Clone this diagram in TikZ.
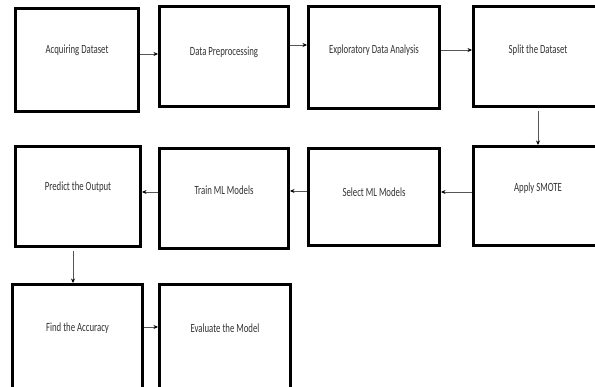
\documentclass[tikz,border=0pt]{standalone}
\usepackage{fontspec}
\setmainfont{Carlito}
\usetikzlibrary{arrows.meta,calc}
\definecolor{txtgray}{HTML}{333333}
\definecolor{linegray}{HTML}{555555}
\tikzset{
  stepbox/.style={draw=black, line width=2.6pt, fill=white, inner sep=0pt},
  steptext/.style={text=txtgray, font=\fontsize{12.5}{14}\selectfont, inner sep=0pt},
  arr/.style={draw=linegray, line width=0.9pt, -{Stealth[length=4.5pt,width=4pt,black]}},
}
% box with its label: #1 name, #2 left, #3 top, #4 right, #5 bottom, #6 label y, #7 text
\newcommand{\flowbox}[7]{%
  \node[stepbox, minimum width={#4-#2-2.6pt}, minimum height={#5-#3-2.6pt}]
    (#1) at ({(#2+#4)/2},{(#3+#5)/2}) {};
  \draw[line width=2.4pt] ($(#1.south west)+(0,1.6pt)$) -- ($(#1.south east)+(0,1.6pt)$);
  \node[steptext] (#1t) at ({(#2+#4)/2},#6) {\scalebox{0.7}[1]{#7}};
}
\begin{document}
\begin{tikzpicture}[x=1pt,y=-1pt]
  \useasboundingbox (0,0) rectangle (595,387);
  \clip (0,0) rectangle (595,387);
  \fill[white] (0,0) rectangle (595,387);

  % first row
  \flowbox{b1}{14}{7}{140}{113}{50}{Acquiring Dataset}
  \flowbox{b2}{158}{5}{290}{108}{52}{Data Preprocessing}
  \flowbox{b3}{307}{5}{441}{110}{50}{Exploratory Data Analysis}
  \flowbox{b4}{472}{5}{604}{108}{50}{Split the Dataset}
  % second row
  \flowbox{b5}{14}{145}{142}{248}{187}{Predict the Output}
  \flowbox{b6}{158}{147}{290}{250}{190}{Train ML Models}
  \flowbox{b7}{307}{147}{441}{247}{192}{Select ML Models}
  \flowbox{b8}{472}{145}{604}{247}{188}{Apply SMOTE}
  % third row
  \flowbox{b9}{11}{283}{144}{396}{328}{Find the Accuracy}
  \flowbox{b10}{158}{283}{292}{396}{328}{Evaluate the Model}

  % heights and columns of the connectors
  \coordinate (r12) at (0,54);
  \coordinate (r23) at (0,45);
  \coordinate (r34) at (0,50);
  \coordinate (r87) at (0,192);
  \coordinate (r76) at (0,191);
  \coordinate (r65) at (0,192);
  \coordinate (r910) at (0,327);
  \coordinate (c48) at (538,0);
  \coordinate (c59) at (73,0);

  \draw[arr] (b1.east |- r12) -- (b2.west |- r12);
  \draw[arr] (b2.east |- r23) -- (b3.west |- r23);
  \draw[arr] (b3.east |- r34) -- (b4.west |- r34);
  \draw[arr] (b4.south -| c48) ++(0,3) -- (b8.north -| c48);
  \draw[arr] (b8.west |- r87) -- (b7.east |- r87);
  \draw[arr] (b7.west |- r76) -- (b6.east |- r76);
  \draw[arr] (b6.west |- r65) -- (b5.east |- r65);
  \draw[arr] (b5.south -| c59) ++(0,3) -- (b9.north -| c59);
  \draw[arr] (b9.east |- r910) -- (b10.west |- r910);
\end{tikzpicture}
\end{document}
